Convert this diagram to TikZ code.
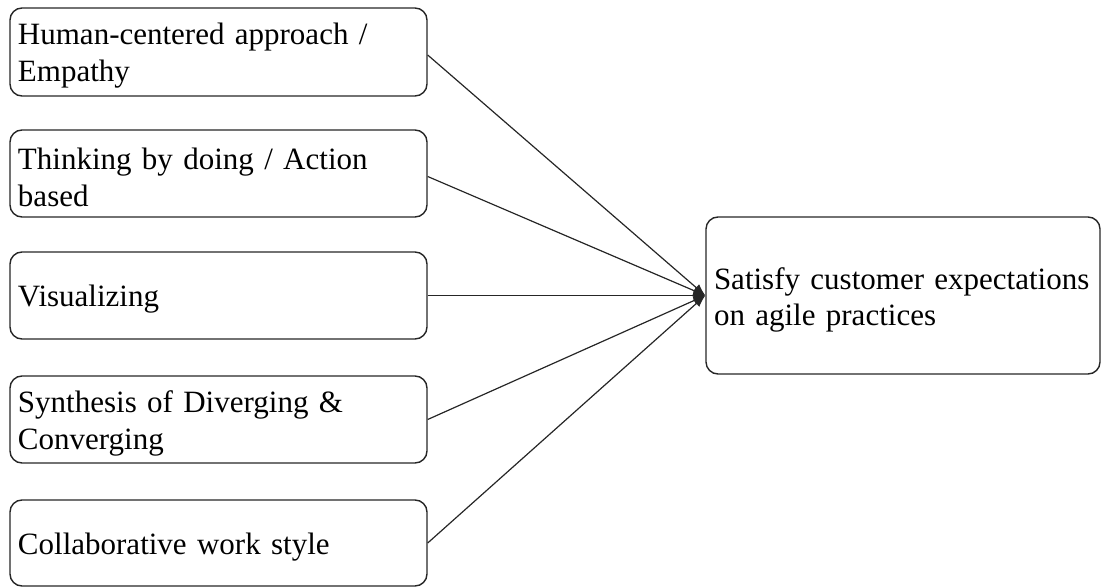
\documentclass[tikz,border=0pt]{standalone}
\usepackage{fontspec}
\setmainfont{Liberation Serif}
\usetikzlibrary{arrows.meta}
\begin{document}
\begin{tikzpicture}[x=0.5pt,y=-0.5pt,
  leftbox/.style={draw=black!85, line width=0.7pt, rounded corners=6pt,
    minimum width=208.5pt, text width=200.5pt, inner xsep=4pt, align=left,
    font=\fontsize{15.5}{18.5}\selectfont, execute at begin node={\rule{0pt}{14.6pt}}},
  rightbox/.style={draw=black!85, line width=0.7pt, rounded corners=6pt,
    minimum width=197pt, minimum height=78.5pt, text width=189pt, inner xsep=4pt, align=left,
    font=\fontsize{15.5}{18}\selectfont, execute at begin node={\rule{0pt}{15.8pt}}},
  conn/.style={draw=black!85, line width=0.6pt, -{Latex[length=6pt,width=4.5pt]}}]
\useasboundingbox (0,0) rectangle (1102,587);
\node[leftbox, minimum height=44pt] (b1) at (218.5,52) {Human-centered approach /\\Empathy};
\node[leftbox, minimum height=43.5pt] (b2) at (218.5,173.5) {Thinking by doing / Action\\based};
\node[leftbox, minimum height=43.5pt] (b3) at (218.5,295.5) {Visualizing};
\node[leftbox, minimum height=43.5pt] (b4) at (218.5,419.5) {Synthesis of Diverging \&\\Converging};
\node[leftbox, minimum height=43pt] (b5) at (218.5,543) {Collaborative work style};
\node[rightbox] (r) at (903,295.5) {Satisfy customer expectations\\on agile practices};
\draw[conn] ([yshift=-1.5pt]b1.east) -- (r.west);
\draw[conn] ([yshift=-1.5pt]b2.east) -- (r.west);
\draw[conn] (b3.east) -- (r.west);
\draw[conn] (b4.east) -- (r.west);
\draw[conn] (b5.east) -- (r.west);
\end{tikzpicture}
\end{document}
